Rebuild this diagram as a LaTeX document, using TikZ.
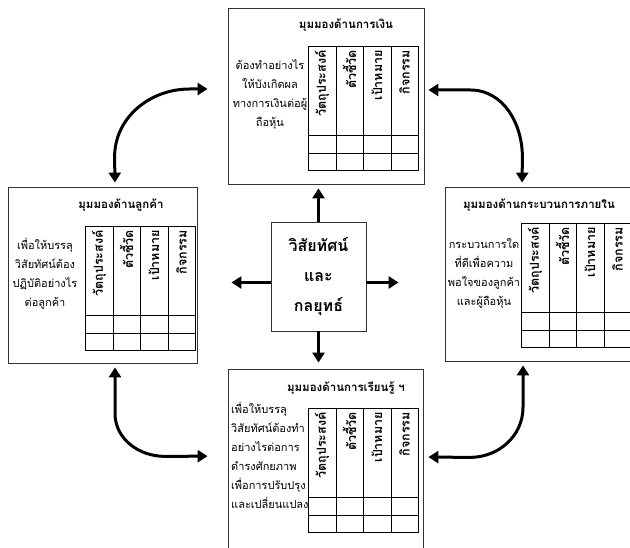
\documentclass[tikz,border=0pt]{standalone}
\usepackage{fontspec}
\setmainfont[Script=Thai]{Loma}
\usetikzlibrary{arrows.meta}

\begin{document}
\begin{tikzpicture}[x=1pt,y=1pt,
    box/.style={draw=black!80,line width=0.8pt,inner sep=0pt},
    heading/.style={inner sep=0pt,font=\fontsize{11.5}{14}\selectfont\bfseries},
    body/.style={inner sep=0pt,align=center,font=\fontsize{11}{19}\selectfont},
    colhead/.style={rotate=90,anchor=east,inner sep=0pt,font=\fontsize{12.5}{14}\selectfont\bfseries},
    grid/.style={line width=0.8pt},
    link/.style={line width=3pt,-{Triangle[length=10pt,width=12pt]}},
    twoway/.style={line width=3pt,{Triangle[length=10pt,width=12pt]}-{Triangle[length=10pt,width=12pt]}}]

  \clip (0,0) rectangle (630,547);

  % the four perspectives and the centre
  \node[box,minimum width=196pt,minimum height=176pt] (fin) at (326,451) {};
  \node[box,minimum width=189pt,minimum height=176pt] (cust) at (102.5,272) {};
  \node[box,minimum width=190pt,minimum height=174pt] (proc) at (540,273) {};
  \node[box,minimum width=195pt,minimum height=182pt] (learn) at (325.5,87) {};
  \node[box,minimum width=95pt,minimum height=109pt,align=center,
        font=\fontsize{16}{30}\selectfont\bfseries] (vision) at (318.5,270.5)
        {วิสัยทัศน์\\และ\\กลยุทธ์};

  % titles
  \node[heading] (fin-title) at (346,522) {มุมมองด้านการเงิน};
  \node[heading] (cust-title) at (121,342) {มุมมองด้านลูกค้า};
  \node[heading] (proc-title) at (539,342) {มุมมองด้านกระบวนการภายใน};
  \node[heading] (learn-title) at (346,159) {มุมมองด้านการเรียนรู้ ฯ};

  % questions
  \node[body] (fin-text) at (270,453) {ต้องทำอย่างไร\\ให้บังเกิดผล\\ทางการเงินต่อผู้\\ถือหุ้น};
  \node[body] (cust-text) at (45,273) {เพื่อให้บรรลุ\\วิสัยทัศน์ต้อง\\ปฏิบัติอย่างไร\\ต่อลูกค้า};
  \node[body] (proc-text) at (484,274) {กระบวนการใด\\ที่ดีเพื่อความ\\พอใจของลูกค้า\\และผู้ถือหุ้น};
  \node[body,align=left,anchor=west] (learn-text) at (231,92)
        {เพื่อให้บรรลุ\\วิสัยทัศน์ต้องทำ\\อย่างไรต่อการ\\ดำรงศักยภาพ\\เพื่อการปรับปรุง\\และเปลี่ยนแปลง};

  % tables
  \foreach \tx/\ty/\nm in {308/501/fin, 85/321/cust, 521/324/proc, 308/139/learn} {
    \draw[grid] (\tx,\ty) rectangle ++(110,-124);
    \draw[grid] (\tx,\ty-89) -- ++(110,0);
    \draw[grid] (\tx,\ty-107) -- ++(110,0);
    \foreach \cx in {28,55,83}
      \draw[grid] (\tx+\cx,\ty) -- ++(0,-124);
    \node[colhead] (\nm-obj) at (\tx+14,\ty-4) {วัตถุประสงค์};
    \node[colhead] (\nm-kpi) at (\tx+41.5,\ty-4) {ตัวชี้วัด};
    \node[colhead] (\nm-goal) at (\tx+69,\ty-4) {เป้าหมาย};
    \node[colhead] (\nm-act) at (\tx+96.5,\ty-4) {กิจกรรม};
  }

  % arrows from the centre
  \draw[link,shorten >=4pt] (vision.north) -- (vision.north |- fin.south);
  \draw[link,shorten >=6pt] (vision.south) -- (vision.south |- learn.north);
  \draw[link,shorten >=34pt] ([yshift=-6pt]vision.west) -- ([yshift=-6pt]vision.west -| cust.east);
  \draw[link,shorten >=46pt] ([yshift=-6pt]vision.east) -- ([yshift=-6pt]vision.east -| proc.west);

  % arrows round the outside
  \draw[twoway,shorten <=20pt,shorten >=4pt] ([yshift=7pt]fin.west) -- ++(-38,0)
        to[out=180,in=90] ++(-75,-68) -- ([xshift=12.5pt]cust.north);
  \draw[twoway,shorten <=4pt,shorten >=4pt] ([yshift=6pt]fin.east) -- ++(46,0)
        to[out=0,in=90] ++(52,-67) -- ([xshift=-18pt]proc.north);
  \draw[twoway,shorten <=4pt,shorten >=20pt] ([xshift=12.5pt]cust.south) -- ++(0,-50)
        to[out=-90,in=180] ++(50,-43) -- ([yshift=4pt]learn.west);
  \draw[twoway,shorten <=4pt,shorten >=5pt] ([xshift=-17pt]proc.south) -- ++(0,-46)
        to[out=-90,in=0] ++(-53,-50) -- ([yshift=3pt]learn.east);

\end{tikzpicture}
\end{document}
